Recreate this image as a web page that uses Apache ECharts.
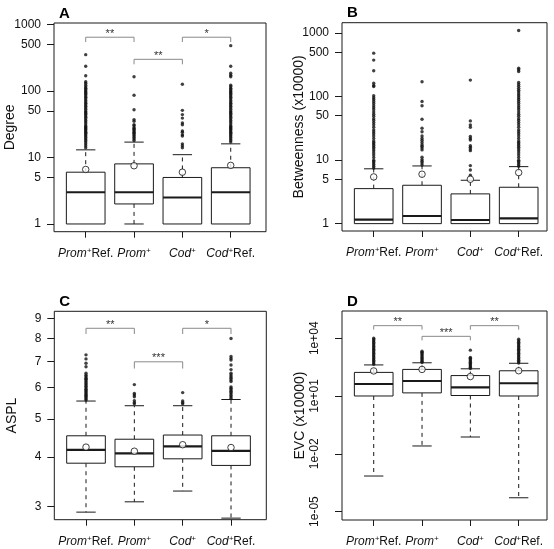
<!DOCTYPE html>
<html><head><meta charset="utf-8">
<script src="https://cdn.jsdelivr.net/npm/echarts@6/dist/echarts.min.js"></script>
<style>html,body{margin:0;padding:0;background:#fff}#c{width:554px;height:549px}</style>
</head><body><div id="c"></div>
<script>
// ---------- data ----------
const categories = ['Prom+Ref.', 'Prom+', 'Cod+', 'Cod+Ref.'];
const panelTitles = ['A', 'B', 'C', 'D'];
const axisNames = ['Degree', 'Betweenness (x10000)', 'ASPL', 'EVC (x10000)'];

// box stats: [lower whisker, Q1, median, Q3, upper whisker]
const degreeStats = [[1,1,3,6,13],[1,2,3,8,17],[1,1,2.5,5,11],[1,1,3,7,16]];
const degreeMeans = [6.6, 7.5, 6.0, 7.6];
const degreeOutliers = [
  [14,15,16,17,18,19,20,21,22,23,24,25,26,27,28,29,30,32,34,36,38,40,42,44,46,48,50,53,56,59,62,65,68,72,76,80,84,88,92,96,100,105,110,115,122,130,137,169,234,350],
  [18,19,20,21,22,23,24,25,26,27,28,30,31,35,37,52,86,163],
  [14,15,16,21,22,24,25,31,33,39,44,51,126],
  [17,18,19,20,21,22,23,24,25,26,27,28,29,30,32,34,36,38,40,42,44,46,48,50,53,56,59,62,65,68,72,76,80,84,88,92,96,100,105,110,116,122,163,172,184,234,478]
];
const degreeTicks = [1, 5, 10, 50, 100, 500, 1000];
const degreeSig = [[1, 2, 640, 542, '**'], [2, 3, 298, 251, '**'], [3, 4, 640, 542, '*']];

const betweenStats = [[1,1,1.16,3.56,7.3],[1,1,1.32,4.02,8.1],[1,1,1.14,2.94,4.82],[1,1,1.21,3.74,7.9]];
const betweenMeans = [5.44, 6.0, 5.0, 6.37];
const betweenOutliers = [
  [7.5,8,8.5,9,9.5,10,11,12,13,14,15,16,17,18,19,20,22,24,26,28,30,33,36,39,42,45,49,53,57,62,67,72,78,84,90,96,103,144,150,163,255,376,484],
  [8.4,9,9.6,10.2,11.1,14.5,15.5,16.5,17.5,19,20.5,22,24,28,31.8,44,72,84,171],
  [5.8,7.0,8.2,14.1,15,16,16.8,20.8,22,23.5,33,35.9,41.5,182],
  [8,8.5,9,9.5,10,11,12,13,14,15,16,17,18,19,20,22,24,26,28,30,33,36,39,42,45,49,53,57,62,67,72,78,84,90,96,103,110,118,126,135,145,155,167,249,265,281,1100]
];
const betweenTicks = [1, 5, 10, 50, 100, 500, 1000];
const betweenSig = [];

const asplStats = [[2.90,3.86,4.17,4.53,5.55],[3.08,3.78,4.09,4.44,5.40],[3.28,3.96,4.26,4.55,5.40],[2.80,3.81,4.15,4.53,5.60]];
const asplMeans = [4.24, 4.14, 4.30, 4.23];
const asplOutliers = [
  [5.58,5.62,5.66,5.70,5.74,5.78,5.82,5.86,5.90,5.95,6.0,6.05,6.1,6.15,6.2,6.25,6.3,6.34,6.4,6.45,6.53,6.78,6.92,7.10,7.27],
  [5.46,5.5,5.56,5.69,5.75,5.80,6.11],
  [5.46,5.5,5.55,5.83],
  [5.63,5.68,5.73,5.78,5.83,5.88,5.93,5.98,6.03,6.22,6.28,6.34,6.40,6.46,6.53,6.67,6.85,7.05,7.12,7.20,8.0]
];
const asplTicks = [3, 4, 5, 6, 7, 8, 9];
const asplSig = [[1, 2, 8.49, 8.21, '**'], [2, 3, 6.98, 6.71, '***'], [3, 4, 8.49, 8.21, '*']];

const evcStats = [[7.0e-4,10,42,168,410],[0.0254,14.5,60,240,530],[0.0743,10.6,28,115,258],[5.2e-5,10,46,204,500]];
const evcMeans = [200, 240, 102, 205];
const evcOutliers = [
  [440,520,610,720,850,1000,1180,1390,1640,1940,2290,2700,3190,3760,4440,5240,6180,7300,8600,10100],
  [550,640,750,870,1010,1180,1370,1600,1850,2130],
  [270,310,360,420,490,570,660,770,900,1000,2400],
  [520,610,720,850,1000,1180,1390,1640,1940,2290,2700,3190,3760,4440,5240,6180,7300,8900]
];
const evcTicks = [1e-5, 1e-2, 1e1, 1e4];
const evcSig = [[1, 2, 44870, 27800, '**'], [2, 3, 12530, 7760, '***'], [3, 4, 44870, 27800, '**']];

// ---------- layout ----------
const lg = Math.log10;
const FONT = "'Liberation Sans', Arial, Helvetica, sans-serif";
const INK = '#1a1a1a';
const grids = [
  {left: 54, top: 23, width: 212, height: 208.7},
  {left: 342, top: 22.7, width: 205, height: 208.3},
  {left: 54.3, top: 311.3, width: 212, height: 208.4},
  {left: 342, top: 311, width: 205, height: 209}
];
const xRanges = [[0.344, 4.73], [0.344, 4.586], [0.344, 4.73], [0.344, 4.586]];
const yRanges = [[-0.116, 3.02], [-0.116, 3.164], [0.4432, 0.972], [-5.438, 5.413]];
const nameGaps = [37, 36, 35, 35];
const panels = [
  {stats: degreeStats, means: degreeMeans, outl: degreeOutliers, ticks: degreeTicks, sig: degreeSig},
  {stats: betweenStats, means: betweenMeans, outl: betweenOutliers, ticks: betweenTicks, sig: betweenSig},
  {stats: asplStats, means: asplMeans, outl: asplOutliers, ticks: asplTicks, sig: asplSig},
  {stats: evcStats, means: evcMeans, outl: evcOutliers, ticks: evcTicks, sig: evcSig}
];

function catLabel(v) {
  const name = categories[Math.round(v) - 1] || '';
  const m = name.match(/^(Prom|Cod)\+(.*)$/);
  return '{i|' + m[1] + '}{s|+}{n|' + m[2] + '}';
}
function numFmt(v) { return String(Math.round(Math.pow(10, v))); }
function expFmt(v) {
  const e = Math.round(v);
  return '1e' + (e < 0 ? '-' : '+') + String(Math.abs(e)).padStart(2, '0');
}

function renderBox(params, api) {
  const x = api.value(0), lw = api.value(1), q1 = api.value(2), md = api.value(3), q3 = api.value(4), uw = api.value(5);
  const hw = 0.4, cw = 0.2;
  const L = (a, b, style) => ({type: 'line', shape: {x1: a[0], y1: a[1], x2: b[0], y2: b[1]}, style});
  const solid = {stroke: INK, lineWidth: 1};
  const dash = {stroke: INK, lineWidth: 1, lineDash: [4, 4]};
  const ch = [];
  if (uw > q3) {
    ch.push(L(api.coord([x, q3]), api.coord([x, uw]), dash));
    ch.push(L(api.coord([x - cw, uw]), api.coord([x + cw, uw]), solid));
  }
  if (lw < q1) {
    ch.push(L(api.coord([x, q1]), api.coord([x, lw]), dash));
    ch.push(L(api.coord([x - cw, lw]), api.coord([x + cw, lw]), solid));
  }
  const a = api.coord([x - hw, q3]), b = api.coord([x + hw, q1]);
  ch.push({type: 'rect', shape: {x: a[0], y: a[1], width: b[0] - a[0], height: b[1] - a[1]},
    style: {stroke: INK, lineWidth: 1, fill: '#fff'}});
  ch.push(L(api.coord([x - hw, md]), api.coord([x + hw, md]), {stroke: INK, lineWidth: 2.2}));
  return {type: 'group', children: ch};
}

function makeSigRender(sig) {
  return function (params, api) {
    const s = sig[params.dataIndex];
    const p1 = api.coord([api.value(0), api.value(2)]);
    const p2 = api.coord([api.value(1), api.value(2)]);
    const d1 = api.coord([api.value(0), api.value(3)]);
    return {type: 'group', children: [
      {type: 'polyline', shape: {points: [[p1[0], d1[1]], p1, p2, [p2[0], d1[1]]]},
        style: {stroke: '#8a8a8a', lineWidth: 1, fill: 'none'}},
      {type: 'text', style: {text: s[4], x: (p1[0] + p2[0]) / 2, y: p1[1] + 2, align: 'center', verticalAlign: 'bottom',
        font: '11px ' + FONT, fill: '#333'}}
    ]};
  };
}

const option = {
  animation: false,
  backgroundColor: '#fff',
  title: panelTitles.map((t, i) => ({
    text: t, left: grids[i].left, top: grids[i].top - 22,
    textStyle: {fontSize: 15, fontWeight: 'bold', color: '#000', fontFamily: FONT}
  })),
  grid: grids.map(g => Object.assign({show: true, borderColor: INK, borderWidth: 1, backgroundColor: 'transparent',
    containLabel: false, outerBoundsMode: 'none'}, g)),
  xAxis: grids.map((g, i) => ({
    type: 'value', gridIndex: i, min: xRanges[i][0], max: xRanges[i][1],
    axisLine: {show: false, onZero: false},
    splitLine: {show: false},
    axisTick: {show: true, length: 6, customValues: [1, 2, 3, 4], lineStyle: {color: INK}},
    axisLabel: {customValues: [1, 2, 3, 4], formatter: catLabel, margin: 15, color: '#111',
      rich: {
        i: {fontStyle: 'italic', fontSize: 12, fontFamily: FONT, color: '#111'},
        s: {fontStyle: 'italic', fontSize: 8, fontFamily: FONT, color: '#111', verticalAlign: 'top', lineHeight: 14},
        n: {fontSize: 12, fontFamily: FONT, color: '#111'}
      }}
  })),
  yAxis: panels.map((p, i) => {
    const vals = p.ticks.map(lg);
    const isD = i === 3;
    return {
      type: 'value', gridIndex: i, min: yRanges[i][0], max: yRanges[i][1],
      axisLine: {show: false, onZero: false},
      splitLine: {show: false},
      axisTick: {show: true, length: 7, customValues: vals, lineStyle: {color: INK}},
      axisLabel: {customValues: vals, formatter: isD ? expFmt : numFmt, margin: isD ? 21 : 13,
        rotate: isD ? 90 : 0, fontSize: 12, fontFamily: FONT, color: '#111'},
      name: axisNames[i], nameLocation: 'middle', nameGap: nameGaps[i], nameMoveOverlap: false,
      nameTextStyle: {fontSize: 14, fontFamily: FONT, color: '#111'}
    };
  }),
  series: []
};

panels.forEach((p, i) => {
  option.series.push({
    type: 'custom', xAxisIndex: i, yAxisIndex: i, z: 2,
    renderItem: renderBox,
    encode: {x: 0, y: [1, 2, 3, 4, 5]},
    data: p.stats.map((s, k) => [k + 1].concat(s.map(lg)))
  });
  const pts = [];
  p.outl.forEach((arr, k) => arr.forEach(v => pts.push([k + 1, lg(v)])));
  option.series.push({
    type: 'scatter', xAxisIndex: i, yAxisIndex: i, z: 3, symbol: 'circle', symbolSize: 3.4,
    itemStyle: {color: '#111'}, data: pts
  });
  option.series.push({
    type: 'scatter', xAxisIndex: i, yAxisIndex: i, z: 4, symbol: 'circle', symbolSize: 6.5,
    itemStyle: {color: '#fff', borderColor: '#111', borderWidth: 1},
    data: p.means.map((m, k) => [k + 1, lg(m)])
  });
  if (p.sig.length) {
    option.series.push({
      type: 'custom', xAxisIndex: i, yAxisIndex: i, z: 5,
      renderItem: makeSigRender(p.sig),
      encode: {x: [0, 1], y: [2, 3]},
      data: p.sig.map(s => [s[0], s[1], lg(s[2]), lg(s[3])])
    });
  }
});

const chart = echarts.init(document.getElementById('c'), null, {renderer: 'canvas'});
chart.setOption(option);
</script>
</body></html>
